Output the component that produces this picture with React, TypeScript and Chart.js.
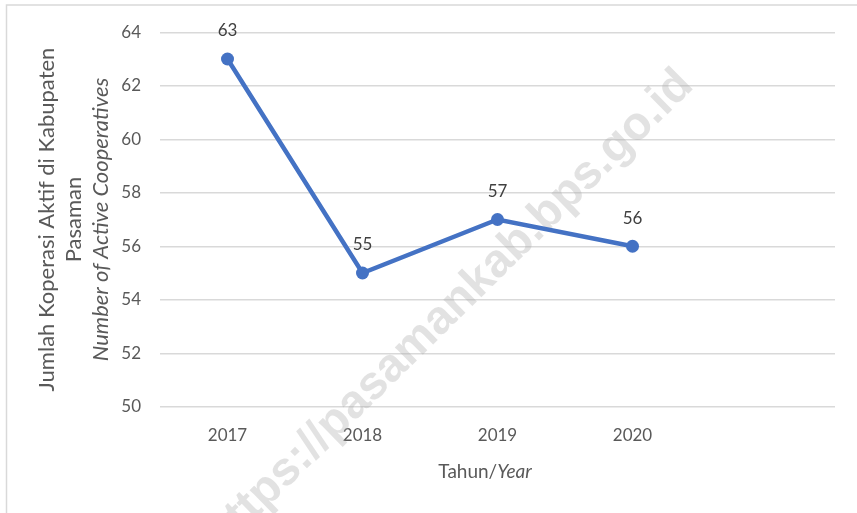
import React, { useEffect, useRef } from 'react';
import { Chart, registerables } from 'chart.js';

Chart.register(...registerables);

// ---- data ----
const years = ['2017', '2018', '2019', '2020'];
const xLabels = [...years, ''];
const activeCooperatives = [63, 55, 57, 56];
const yMin = 50;
const yMax = 64;
const yStep = 2;
const yTitleLines = ['Jumlah Koperasi Aktif di Kabupaten', 'Pasaman'];
const yTitleItalic = 'Number of Active Cooperatives';
const xTitleRegular = 'Tahun/';
const xTitleItalic = 'Year';
const watermarkText = 'https://pasamankab.bps.go.id';

const W = 857;
const H = 513;
const FONT = 'Lato, "Open Sans", sans-serif';
const TEXT = '#595959';

const decorPlugin = {
  id: 'decor',
  beforeDraw(chart: any) {
    const ctx = chart.ctx;
    ctx.save();
    ctx.fillStyle = '#ffffff';
    ctx.fillRect(0, 0, W, H);
    ctx.strokeStyle = '#d9d9d9';
    ctx.lineWidth = 1.5;
    ctx.beginPath();
    ctx.moveTo(6.5, H + 5);
    ctx.lineTo(6.5, 5);
    ctx.lineTo(W + 5, 5);
    ctx.stroke();
    ctx.restore();
  },
  beforeDatasetsDraw(chart: any) {
    const ctx = chart.ctx;
    ctx.save();
    ctx.translate(450, 311);
    ctx.rotate((-44.5 * Math.PI) / 180);
    ctx.font = 'bold 47px "Liberation Sans", Arial, sans-serif';
    ctx.fillStyle = 'rgba(170,170,170,0.34)';
    ctx.textAlign = 'center';
    ctx.textBaseline = 'alphabetic';
    ctx.fillText(watermarkText, 0, 12);
    ctx.restore();
  },
  afterDatasetsDraw(chart: any) {
    const ctx = chart.ctx;
    const area = chart.chartArea;
    ctx.save();
    // data labels
    const meta = chart.getDatasetMeta(0);
    ctx.font = `17px ${FONT}`;
    ctx.fillStyle = '#404040';
    ctx.textAlign = 'center';
    ctx.textBaseline = 'middle';
    meta.data.forEach((pt: any, i: number) => {
      ctx.fillText(String(activeCooperatives[i]), pt.x, pt.y - 28);
    });
    // y axis title
    const cy = (area.top + area.bottom) / 2;
    const lineX = [47, 74, 101];
    ctx.fillStyle = TEXT;
    yTitleLines.forEach((t, i) => {
      ctx.save();
      ctx.translate(lineX[i], cy);
      ctx.rotate(-Math.PI / 2);
      ctx.font = `22px ${FONT}`;
      ctx.fillText(t, 0, 0);
      ctx.restore();
    });
    ctx.save();
    ctx.translate(lineX[2], cy);
    ctx.rotate(-Math.PI / 2);
    ctx.font = `italic 22px ${FONT}`;
    ctx.fillText(yTitleItalic, 0, 0);
    ctx.restore();
    // x axis title
    ctx.font = `19px ${FONT}`;
    const w1 = ctx.measureText(xTitleRegular).width;
    ctx.font = `italic 19px ${FONT}`;
    const w2 = ctx.measureText(xTitleItalic).width;
    const startX = 485 - (w1 + w2) / 2;
    ctx.textAlign = 'left';
    ctx.font = `19px ${FONT}`;
    ctx.fillText(xTitleRegular, startX, 472);
    ctx.font = `italic 19px ${FONT}`;
    ctx.fillText(xTitleItalic, startX + w1, 472);
    ctx.restore();
  },
};

export default function App() {
  const ref = useRef<HTMLCanvasElement | null>(null);
  useEffect(() => {
    if (!ref.current) return;
    const chart = new Chart(ref.current, {
      type: 'line',
      data: {
        labels: xLabels,
        datasets: [
          {
            data: activeCooperatives,
            borderColor: '#4472C4',
            backgroundColor: '#4472C4',
            borderWidth: 4.5,
            pointRadius: 6.5,
            pointBackgroundColor: '#4472C4',
            pointBorderColor: '#4472C4',
            pointBorderWidth: 0,
            tension: 0,
          },
        ],
      },
      options: {
        responsive: false,
        animation: false,
        layout: { padding: { left: 0, right: 22, top: 32.25, bottom: 0 } },
        plugins: { legend: { display: false }, tooltip: { enabled: false }, title: { display: false } },
        scales: {
          x: {
            type: 'category',
            offset: true,
            grid: { display: false, drawTicks: false },
            border: { display: false },
            ticks: { color: TEXT, font: { family: FONT, size: 17 }, padding: 19, maxRotation: 0 },
            afterFit: (s: any) => {
              s.height = H - 406.75;
            },
          },
          y: {
            min: yMin,
            max: yMax,
            grid: { color: '#d9d9d9', lineWidth: 1.5, drawTicks: false },
            border: { display: false },
            ticks: { stepSize: yStep, color: TEXT, font: { family: FONT, size: 17 }, padding: 19 },
            afterFit: (s: any) => {
              s.width = 160;
            },
          },
        },
      },
      plugins: [decorPlugin],
    });
    return () => chart.destroy();
  }, []);
  return (
    <canvas
      ref={ref}
      width={W}
      height={H}
      style={{ position: 'fixed', left: 0, top: 0, width: W, height: H }}
    />
  );
}
